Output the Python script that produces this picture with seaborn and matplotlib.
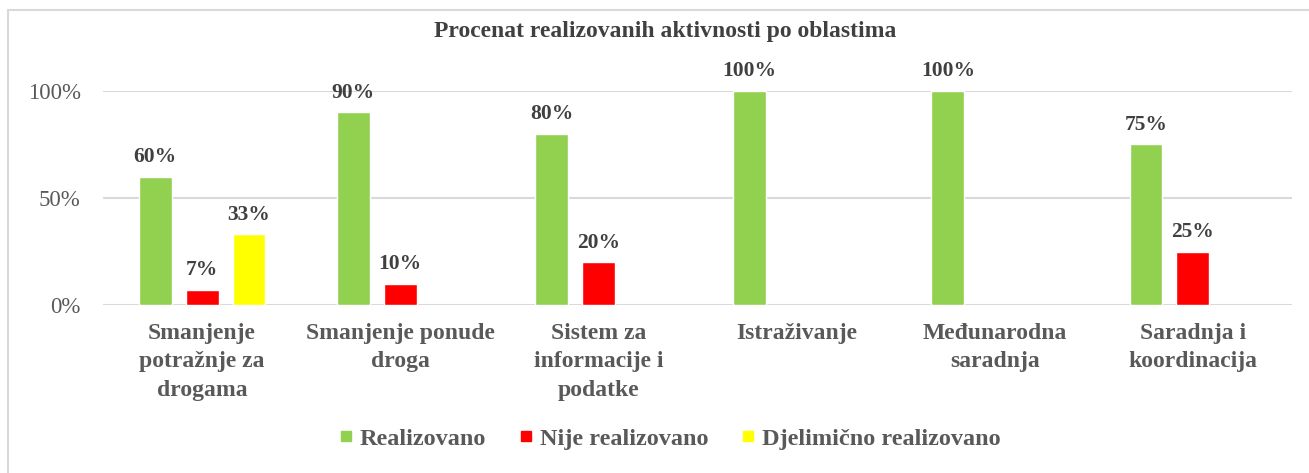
import pandas as pd
import seaborn as sns
import matplotlib.pyplot as plt
from matplotlib.patches import Rectangle
from matplotlib.lines import Line2D

categories = [
    'Smanjenje\npotražnje za\ndrogama',
    'Smanjenje ponude\ndroga',
    'Sistem za\ninformacije i\npodatke',
    'Istraživanje',
    'Međunarodna\nsaradnja',
    'Saradnja i\nkoordinacija',
]
series = ['Realizovano', 'Nije realizovano', 'Djelimično realizovano']
realizovano = [0.60, 0.90, 0.80, 1.00, 1.00, 0.75]
nije_realizovano = [0.07, 0.10, 0.20, None, None, 0.25]
djelimicno = [0.33, None, None, None, None, None]
colors = ['#92D050', '#FF0000', '#FFFF00']

rows = []
for name, vals in zip(series, [realizovano, nije_realizovano, djelimicno]):
    for cat, v in zip(categories, vals):
        if v is not None:
            rows.append({'oblast': cat, 'serija': name, 'procenat': v})
df = pd.DataFrame(rows)

sns.set_theme(style='white')
plt.rcParams['font.family'] = ['Liberation Serif', 'DejaVu Serif']

fig = plt.figure(figsize=(13.09, 4.73), dpi=100)
ax = fig.add_axes([0.0787, 0.355, 0.9083, 0.453])

sns.barplot(data=df, x='oblast', y='procenat', hue='serija', order=categories,
            hue_order=series, palette=colors, width=0.71, gap=0.3,
            saturation=1, ax=ax, legend=False)

for cont in ax.containers:
    labels = [f'{v * 100:.0f}%' for v in cont.datavalues]
    ax.bar_label(cont, labels=labels, padding=7, fontsize=15.5, fontweight='bold',
                 color='#404040', clip_on=False)

ax.set_ylim(0, 1)
ax.set_yticks([0, 0.5, 1.0])
ax.set_yticklabels(['0%', '50%', '100%'], fontsize=16.5, color='#595959')
ax.set_xlim(-0.5, len(categories) - 0.5)
ax.tick_params(axis='x', labelsize=17, labelcolor='#595959', pad=13, length=0)
ax.tick_params(axis='y', pad=16, length=0)
for lab in ax.get_xticklabels():
    lab.set_fontweight('bold')
    lab.set_linespacing(1.45)
ax.set_xlabel('')
ax.set_ylabel('')
ax.grid(axis='y', color='#D9D9D9', linewidth=1.5)
ax.set_axisbelow(True)
for s in ax.spines.values():
    s.set_visible(False)

fig.suptitle('Procenat realizovanih aktivnosti po oblastima', y=0.955,
             fontsize=17, fontweight='bold', color='#404040', x=0.508)

# square legend markers like the original
handles = [Line2D([], [], marker='s', linestyle='none', markersize=7.5,
                  markerfacecolor=c, markeredgecolor=c) for c in colors]
leg = fig.legend(handles, series, loc='center', bbox_to_anchor=(0.512, 0.072), ncol=3,
                 frameon=False, handlelength=0.5, handletextpad=0.3,
                 columnspacing=1.4, prop={'size': 17.5, 'weight': 'bold'})
for t in leg.get_texts():
    t.set_color('#595959')

fig.add_artist(Rectangle((8 / 1309, -0.1), 1.2, 1.1 - 10 / 473, transform=fig.transFigure,
                         fill=False, edgecolor='#D9D9D9', linewidth=1.5))

fig.savefig('out.png', dpi=100)
